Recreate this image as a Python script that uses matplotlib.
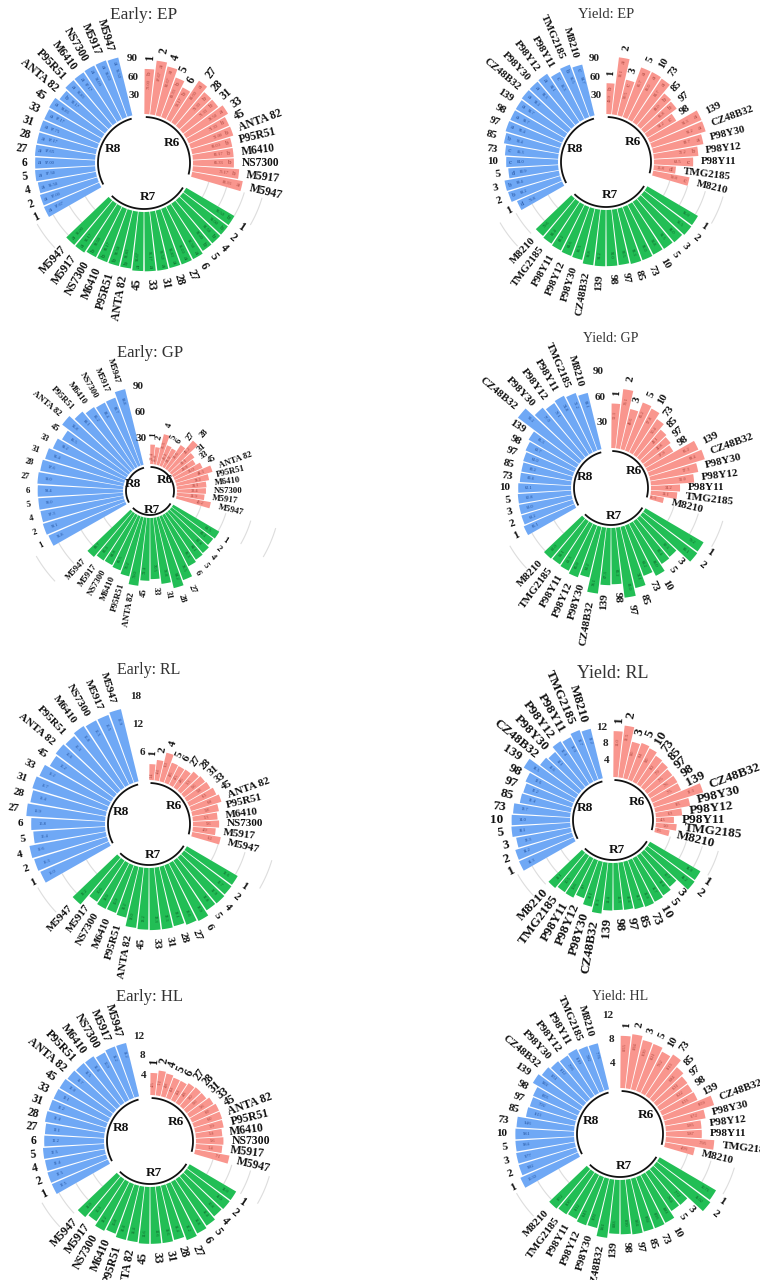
import numpy as np
import matplotlib.pyplot as plt

plt.rcParams['font.family'] = ['Liberation Serif', 'DejaVu Serif']

W, H = 760, 1280
N_SLOT = 54          # 3 groups x 16 bars, 2 empty slots after each group
GROUPS = ['R6', 'R7', 'R8']

early_names = ['1', '2', '4', '5', '6', '27', '28', '31', '33', '45',
               'ANTA 82', 'P95R51', 'M6410', 'NS7300', 'M5917', 'M5947']
yield_names = ['1', '2', '3', '5', '10', '73', '85', '97', '98', '139',
               'CZ48B32', 'P98Y30', 'P98Y12', 'P98Y11', 'TMG2185', 'M8210']

# Early: EP
early_ep_r6 = [73.00, 87.67, 81.67, 68.33, 58.17, 81.00, 71.33, 71.33, 78.50, 71.33, 72.00, 66.00, 66.17, 66.33, 75.17, 83.33]
early_ep_r7 = [90.50, 91.00, 91.50, 92.00, 95.50, 96.00, 95.83, 96.50, 96.17, 95.67, 92.83, 92.50, 92.17, 92.00, 95.17, 95.00]
early_ep_r8 = [97.67, 97.00, 95.50, 97.50, 97.00, 97.65, 97.17, 97.75, 97.17, 98.83, 92.17, 96.83, 97.17, 98.00, 98.00, 96.50]
early_ep_sig = ['baabbabbabbbbbba', 'bbbbaaaaaabbbbaa', 'aaaaaaaaaabaaaaa']

# Yield: EP
yield_ep_r6 = [49.9, 93.1, 59.5, 85.7, 86.0, 84.7, 68.0, 65.8, 54.2, 91.3, 91.2, 82.7, 72.2, 63.5, 35.8, 59.8]
yield_ep_r7 = [95.0, 95.5, 93.0, 91.5, 90.8, 92.0, 92.3, 90.5, 91.0, 91.2, 90.8, 85.5, 84.6, 83.2, 81.4, 79.6]
yield_ep_r8 = [79.8, 88.2, 89.4, 80.9, 84.0, 86.3, 90.4, 92.4, 91.7, 91.7, 93.2, 93.3, 94.1, 86.3, 90.5, 84.7]
yield_ep_sig = ['bacaaabbcaaabcdc', None, 'dbbdccbaaaaaacbc']

# Early: GP
early_gp_r6 = [22.4, 19.8, 36.3, 25.1, 24.0, 32.6, 45.2, 33.1, 29.8, 35.0, 44.3, 38.2, 34.1, 33.4, 31.9, 40.2]
early_gp_r7 = [61.5, 60.2, 62.8, 64.1, 66.3, 78.5, 84.2, 76.8, 70.5, 72.4, 79.0, 70.2, 66.5, 64.8, 65.3, 68.7]
early_gp_r8 = [96.8, 98.1, 97.3, 98.0, 98.4, 99.0, 97.6, 95.4, 91.2, 86.5, 95.8, 89.1, 85.2, 83.4, 83.7, 89.8]

# Yield: GP
yield_gp_r6 = [52.3, 70.1, 48.6, 60.2, 57.8, 50.4, 43.1, 40.8, 37.9, 65.2, 68.4, 57.3, 51.0, 34.2, 31.1, 16.3]
yield_gp_r7 = [79.2, 80.1, 59.3, 60.4, 69.0, 63.2, 74.1, 83.0, 66.2, 67.3, 78.1, 61.2, 65.0, 62.3, 61.1, 62.0]
yield_gp_r8 = [65.1, 63.2, 63.0, 62.8, 62.1, 60.4, 60.2, 61.0, 62.7, 65.3, 90.2, 77.0, 73.1, 74.8, 72.2, 68.1]

# Early: RL
early_rl_r6 = [3.4, 4.4, 6.3, 4.6, 4.5, 4.6, 5.3, 5.6, 5.8, 6.3, 6.8, 5.8, 5.3, 5.6, 4.9, 6.2]
early_rl_r7 = [12.6, 12.7, 12.9, 12.8, 13.9, 13.6, 13.1, 13.3, 13.3, 13.2, 13.0, 11.2, 10.9, 11.0, 10.6, 13.2]
early_rl_r8 = [16.0, 16.3, 16.6, 15.4, 15.8, 16.9, 16.4, 16.7, 16.2, 15.2, 15.6, 15.3, 15.8, 15.5, 15.5, 15.9]

# Yield: RL
yield_rl_r6 = [11.0, 12.5, 9.0, 9.4, 9.0, 8.2, 7.9, 7.5, 7.6, 7.5, 12.3, 8.5, 6.3, 4.3, 5.0, 3.5]
yield_rl_r7 = [14.0, 14.2, 10.7, 11.4, 11.7, 11.9, 11.7, 11.4, 11.3, 11.4, 12.3, 11.1, 9.7, 10.6, 10.5, 11.1]
yield_rl_r8 = [14.3, 14.2, 13.3, 14.1, 14.0, 13.7, 12.4, 12.2, 12.6, 14.5, 11.6, 11.1, 12.4, 12.0, 12.7, 12.2]

# Early: HL
early_hl_r6 = [4.5, 5.1, 4.8, 4.4, 4.4, 4.8, 5.0, 5.0, 5.6, 6.0, 6.0, 5.9, 5.4, 5.6, 5.4, 7.1]
early_hl_r7 = [11.0, 11.0, 10.8, 11.4, 11.8, 12.2, 11.4, 11.6, 11.6, 11.6, 11.4, 11.4, 10.8, 11.2, 10.3, 11.0]
early_hl_r8 = [12.5, 12.5, 12.4, 12.5, 12.2, 12.1, 12.4, 12.2, 12.1, 12.0, 11.7, 11.5, 11.4, 10.9, 11.2, 11.2]

# Yield: HL
yield_hl_r6 = [8.55, 8.94, 8.30, 8.21, 7.62, 8.13, 6.84, 6.31, 6.22, 6.33, 8.59, 6.72, 5.85, 5.87, 7.95, 4.93]
yield_hl_r7 = [10.71, 11.02, 7.72, 7.64, 8.81, 8.93, 8.92, 9.04, 8.90, 8.83, 9.61, 8.32, 8.43, 8.12, 8.30, 8.52]
yield_hl_r8 = [10.30, 9.82, 9.77, 9.64, 9.61, 9.46, 8.13, 7.92, 8.03, 9.02, 8.51, 8.12, 7.93, 8.10, 7.82, 7.76]

bar_cols = ['#F9968E', '#22BE55', '#6FA8F5']
txt_cols = ['#A8443C', '#0B5E26', '#1F4E9A']

# title, names, (R6, R7, R8), letters, scale step, decimals, centre x/y (px),
# hole radius (px), px per unit, title y, title size, name size
panels = [
    ('Early: EP', early_names, (early_ep_r6, early_ep_r7, early_ep_r8), early_ep_sig,
     30, 2, 144, 163, 49, 0.617, 15, 12.5, 8.3),
    ('Yield: EP', yield_names, (yield_ep_r6, yield_ep_r7, yield_ep_r8), yield_ep_sig,
     30, 1, 606, 162, 48, 0.617, 15, 10.5, 7.8),
    ('Early: GP', early_names, (early_gp_r6, early_gp_r7, early_gp_r8), None,
     30, 1, 150, 491, 27, 0.867, 353, 12, 6.3),
    ('Yield: GP', yield_names, (yield_gp_r6, yield_gp_r7, yield_gp_r8), None,
     30, 1, 611, 488, 40, 0.85, 338, 10, 8),
    ('Early: RL', early_names, (early_rl_r6, early_rl_r7, early_rl_r8), None,
     6, 1, 149, 824, 44, 4.67, 670, 11.5, 8),
    ('Yield: RL', yield_names, (yield_rl_r6, yield_rl_r7, yield_rl_r8), None,
     4, 1, 613, 820, 43, 4.17, 673, 13, 9.5),
    ('Early: HL', early_names, (early_hl_r6, early_hl_r7, early_hl_r8), None,
     4, 1, 150, 1141, 46, 4.9, 997, 12, 8.5),
    ('Yield: HL', yield_names, (yield_hl_r6, yield_hl_r7, yield_hl_r8), None,
     4, 2, 620, 1134, 46, 6.1, 997, 10, 8),
]

fig = plt.figure(figsize=(W / 100, H / 100), dpi=100)
slot = 2 * np.pi / N_SLOT
R = 135  # axes radius in px

for (title, names, series, sig, step, dec, cx, cy, hole, ppu,
     ty, tfs, nfs) in panels:
    ax = fig.add_axes([(cx - R) / W, 1 - (cy + R) / H, 2 * R / W, 2 * R / H],
                      projection='polar')
    ax.set_theta_zero_location('N')
    ax.set_theta_direction(-1)
    rmin = -hole / ppu
    ax.set_ylim(rmin, rmin + R / ppu)
    ax.set_axis_off()
    ax.patch.set_alpha(0)

    for g, vals in enumerate(series):
        vals = np.asarray(vals)
        ids = np.arange(len(vals)) + g * 18
        theta = (ids + 0.5) * slot
        ax.bar(theta, vals, width=slot * 0.88, bottom=0, color=bar_cols[g],
               edgecolor='none', zorder=2)

        # base arc and group name inside the hole
        arc = np.linspace(theta[0], theta[-1], 80)
        ax.plot(arc, np.full_like(arc, -3 / ppu), color='#111111', lw=1.3, zorder=3)
        ax.text(theta.mean(), rmin + 0.7 * hole / ppu, GROUPS[g], ha='center',
                va='center', fontsize=9.5, fontweight='bold', color='#111111')

        letters = sig[g] if sig is not None else None
        for i, (t, v) in enumerate(zip(theta, vals)):
            deg = np.degrees(t)
            rot = 90 - deg
            ha = 'left'
            if rot < -90:
                rot += 180
                ha = 'right'
            ax.text(t, v + 8 / ppu, names[i], rotation=rot, rotation_mode='anchor',
                    ha=ha, va='center', fontsize=nfs, fontweight='bold',
                    color='#111111')
            r_num = v - (15 if letters else 11) / ppu
            ax.text(t, r_num, f'{v:.{dec}f}', rotation=rot, rotation_mode='anchor',
                    ha='center', va='center', fontsize=3.2, color=txt_cols[g],
                    zorder=4)
            if letters:
                ax.text(t, v - 4.5 / ppu, letters[i], rotation=rot,
                        rotation_mode='anchor', ha='center', va='center',
                        fontsize=5, color=txt_cols[g], zorder=4)

    # faint grid arcs in the gaps between groups
    for start in (16, 34):
        arc = np.linspace(start * slot, (start + 2) * slot, 20)
        for k in range(1, 5):
            ax.plot(arc, np.full_like(arc, k * step), color='#DDDDDD', lw=0.8, zorder=1)

    # scale labels in the last empty slot
    for k in range(1, 4):
        ax.text((N_SLOT - 0.5) * slot, k * step, str(k * step), ha='right',
                va='center', fontsize=8, fontweight='bold', color='#222222')

    fig.text(cx / W, 1 - ty / H, title, ha='center', va='center',
             fontsize=tfs, color='#333333')

fig.savefig('out.png', dpi=100, facecolor='white')
